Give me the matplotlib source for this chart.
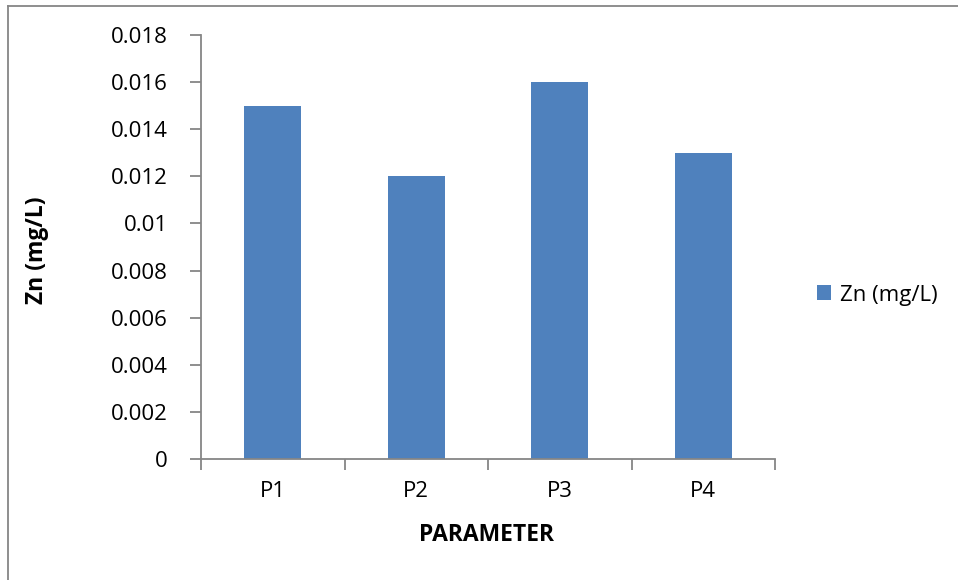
import matplotlib
matplotlib.use("Agg")
import matplotlib.pyplot as plt
from matplotlib.lines import Line2D
from matplotlib.patches import Patch

categories = ["P1", "P2", "P3", "P4"]
zn_values = [0.015, 0.012, 0.016, 0.013]
yticks = [0, 0.002, 0.004, 0.006, 0.008, 0.01, 0.012, 0.014, 0.016, 0.018]
ytick_labels = ["0", "0.002", "0.004", "0.006", "0.008", "0.01", "0.012", "0.014", "0.016", "0.018"]

plt.rcParams['font.family'] = ['Open Sans', 'DejaVu Sans']

W, H = 958, 580
fig = plt.figure(figsize=(W/100, H/100), dpi=100)
ax = fig.add_axes([201/W, 1-459/H, (775-201)/W, (459-35)/H])

color = "#4F81BD"
x = list(range(len(categories)))
ax.bar(x, zn_values, width=0.4, color=color, zorder=2)
ax.set_xlim(-0.5, len(categories)-0.5)
ax.set_ylim(0, 0.018)
ax.set_yticks(yticks)
ax.set_yticklabels(ytick_labels, fontsize=16)
ax.set_xticks(x)
ax.set_xticklabels(categories, fontsize=16)
ax.xaxis.set_minor_locator(matplotlib.ticker.FixedLocator([i-0.5 for i in range(len(categories)+1)]))
ax.tick_params(axis='x', which='major', length=0, pad=16)
ax.tick_params(axis='x', which='minor', length=8, color="#868686", width=1.3)
ax.tick_params(axis='y', length=8, color="#868686", width=1.3, pad=16)
for s in ["top", "right"]:
    ax.spines[s].set_visible(False)
for s in ["left", "bottom"]:
    ax.spines[s].set_color("#868686")
    ax.spines[s].set_linewidth(1.3)

fig.text(37/W, 1-250/H, "Zn (mg/L)", rotation=90, ha="center", va="center", fontsize=16.5, fontweight="bold")
fig.text(486/W, 1-535/H, "PARAMETER", ha="center", va="center", fontsize=16.5, fontweight="bold")

handles = [Patch(facecolor=color, label="Zn (mg/L)")]
fig.legend(handles=handles, loc="center left", bbox_to_anchor=(797/W, 1-295/H), frameon=False,
           fontsize=16, handlelength=0.65, handleheight=0.65, handletextpad=0.4)

# chart border
fig.add_artist(Line2D([7.5/W, 7.5/W], [0, 1-6/H], color="#868686", lw=1.3, transform=fig.transFigure))
fig.add_artist(Line2D([7.5/W, 1], [1-6/H, 1-6/H], color="#868686", lw=1.3, transform=fig.transFigure))

fig.savefig("out.png", dpi=100)
